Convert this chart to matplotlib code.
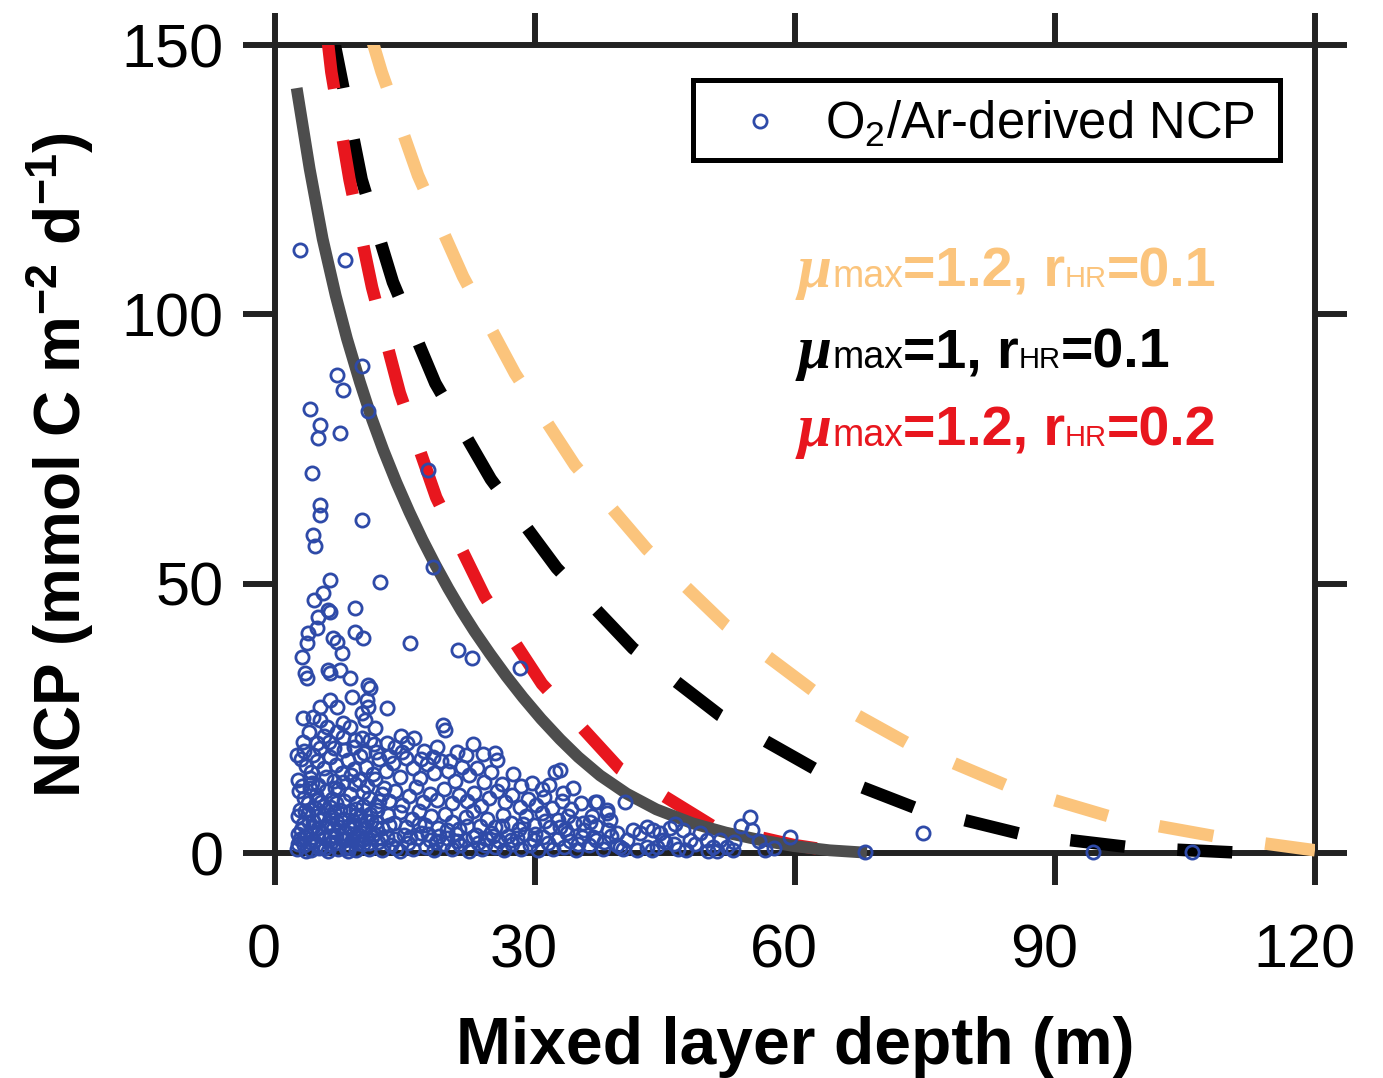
import matplotlib
matplotlib.use('Agg')
import matplotlib.pyplot as plt
from matplotlib.patches import Rectangle
from matplotlib.transforms import ScaledTranslation

# ---- model curves ----
mld_gray = [2.5, 4.0, 5.5, 7.0, 8.3, 9.8, 11.2, 12.5, 14.0, 15.5, 17.0, 18.5, 20.0, 21.5, 23.0,
            24.8, 26.7, 28.6, 30.7, 32.9, 35.0, 37.5, 40.6, 44.0, 48.2, 52.0, 56.0, 59.8, 64.0, 68.3]
ncp_gray = [142.0, 127.0, 114.0, 103.5, 95.5, 87.4, 80.5, 74.8, 68.8, 63.3, 58.2, 53.5, 49.1, 45.0, 41.2,
            37.0, 32.8, 28.9, 24.9, 21.1, 17.8, 14.4, 11.0, 8.1, 5.5, 3.8, 2.4, 1.3, 0.5, 0.05]

mld_red = [6.0, 6.5, 8.6, 11.2, 14.4, 18.6, 24.2, 30.8, 39.8, 50.6, 59.8, 66.0]
ncp_red = [152.0, 145.0, 125.0, 105.0, 85.4, 66.0, 47.6, 31.4, 15.6, 4.9, 1.5, 0.0]

mld_black = [6.6, 6.9, 10.0, 13.6, 18.5, 24.9, 32.5, 41.3, 51.3, 62.3, 74.0, 86.4, 99.0, 110.8]
ncp_black = [152.0, 150.0, 125.0, 106.0, 87.2, 69.4, 52.9, 38.0, 25.6, 15.6, 8.3, 3.4, 1.0, 0.1]

mld_orange = [11.0, 12.3, 16.5, 21.7, 27.7, 34.6, 42.9, 52.0, 62.2, 73.3, 84.9, 97.1, 109.5, 120.0]
ncp_orange = [152.0, 145.0, 125.8, 107.0, 89.0, 72.0, 56.4, 42.3, 30.0, 20.1, 12.2, 6.4, 2.8, 0.5]

# ---- O2/Ar-derived NCP observations (MLD, NCP) ----
obs_upper = [
    (2.9, 112.0), (8.1, 110.0), (10.0, 90.5), (7.2, 88.7), (7.8, 86.0), (10.7, 82.0),
    (4.0, 82.5), (5.2, 79.5), (5.0, 77.0), (7.5, 78.0), (4.3, 70.5), (17.7, 71.1),
    (10.0, 61.8), (5.2, 64.6), (5.2, 62.7), (4.4, 59.0), (4.6, 57.0), (6.3, 50.7),
    (12.1, 50.3), (18.2, 53.1), (5.5, 48.2), (4.5, 47.0), (9.2, 45.5), (6.1, 45.1),
    (6.3, 44.7), (5.0, 43.8), (4.8, 41.8), (3.8, 40.8), (9.2, 41.0), (10.2, 39.9),
    (3.7, 39.0), (3.1, 36.4), (6.7, 39.9), (7.2, 39.2), (7.7, 37.1), (15.6, 39.0),
    (21.1, 37.7), (22.7, 36.2), (28.3, 34.3), (3.5, 33.4), (3.7, 32.5), (6.1, 34.0),
    (6.3, 33.4), (7.5, 34.0), (8.7, 32.5), (10.7, 31.2), (11.0, 30.6), (8.9, 29.0),
    (10.6, 28.4), (10.7, 27.1), (12.9, 26.9), (5.2, 27.1), (6.3, 28.4), (7.2, 27.1),
    (3.2, 25.1), (4.4, 25.2), (5.2, 24.7), (6.0, 23.4), (7.2, 22.5), (7.8, 24.1),
    (10.0, 26.0), (10.4, 24.7), (11.5, 23.2), (19.4, 23.8), (19.6, 22.8), (3.2, 20.6),
    (4.8, 20.4), (5.2, 19.5), (2.5, 18.2), (9.2, 21.0), (10.0, 21.3), (11.0, 21.0),
    (12.9, 20.4), (15.2, 20.4), (18.7, 19.7), (21.0, 18.7), (25.4, 18.6), (25.6, 17.3),
    (32.3, 15.0), (34.4, 12.1), (36.9, 9.5), (38.3, 8.0), (38.7, 6.1), (39.5, 1.5),
    (36.3, 5.8), (35.5, 5.6), (36.7, 3.0), (32.9, 15.4), (37.2, 9.5), (38.3, 7.4),
    (38.4, 4.3), (40.4, 9.5), (32.9, 4.8), (33.7, 3.7), (39.5, 3.7), (39.8, 1.1),
    (40.6, 2.4), (41.3, 4.3), (42.1, 3.7), (42.9, 4.8), (43.6, 4.3), (44.4, 3.7),
    (44.8, 2.4), (44.1, 1.1), (42.9, 1.1), (41.8, 0.6), (47.1, 4.3), (47.9, 2.4),
    (49.0, 3.7), (49.8, 2.4), (50.5, 1.1), (51.3, 2.4), (52.2, 1.1), (54.8, 6.7),
    (55.0, 4.3), (59.4, 3.0), (74.8, 3.7), (94.4, 0.2), (105.8, 0.2), (68.1, 0.2),
]

obs_cluster = [
    # NCP 12-25
    (3.0, 17.5), (3.6, 16.2), (4.2, 15.0), (4.9, 17.0), (5.6, 15.8), (6.3, 17.8), (7.0, 16.4),
    (7.7, 14.8), (8.4, 17.2), (9.1, 15.6), (9.8, 18.0), (10.5, 16.0), (11.3, 14.6), (12.0, 17.4),
    (12.8, 15.2), (13.6, 16.8), (14.4, 14.2), (15.1, 17.6), (15.9, 15.8), (16.7, 14.0), (17.5, 16.6),
    (18.3, 14.8), (19.1, 17.1), (20.0, 15.2), (20.8, 13.4), (21.6, 16.0), (22.4, 14.4), (23.3, 15.8),
    (24.1, 13.2), (24.9, 15.0), (26.2, 12.8), (27.5, 14.6), (28.4, 12.4), (29.6, 13.0), (30.8, 11.8),
    (31.6, 12.6), (33.2, 11.2), (4.3, 13.0), (6.8, 13.4), (9.2, 12.8), (2.7, 13.6), (8.0, 19.2),
    (6.2, 20.6), (11.6, 18.8), (13.8, 19.6), (16.0, 21.4), (17.2, 19.0), (22.8, 20.2), (24.0, 18.4),
    (3.9, 22.4), (8.6, 23.4), (14.5, 21.8), (3.1, 12.4), (4.0, 14.0), (5.0, 12.6), (5.9, 14.2),
    (6.9, 12.0), (7.8, 13.2), (8.8, 14.4), (9.7, 13.6), (10.6, 12.4), (11.5, 13.8), (12.6, 12.0),
    (3.3, 19.0), (4.4, 18.2), (5.6, 21.8), (6.8, 19.4), (7.9, 21.6), (9.1, 19.6), (10.3, 18.6),
    (11.4, 20.2), (13.2, 18.0), (14.6, 18.8), (16.8, 17.4), (18.2, 17.8), (20.2, 17.0), (22.0, 18.2),
    # NCP 8-12
    (2.8, 11.5), (3.4, 10.2), (4.0, 12.0), (4.7, 10.8), (5.3, 9.4), (5.9, 11.6), (6.6, 10.0),
    (7.3, 11.8), (8.0, 9.6), (8.7, 11.0), (9.4, 9.2), (10.1, 11.4), (10.8, 10.2), (11.6, 8.8),
    (12.4, 11.0), (13.1, 9.6), (13.9, 11.6), (14.7, 9.0), (15.5, 10.6), (16.3, 12.2), (17.1, 9.4),
    (17.9, 11.0), (18.7, 9.8), (19.5, 11.8), (20.4, 9.2), (21.2, 10.8), (22.1, 9.6), (23.0, 11.2),
    (23.8, 8.8), (24.7, 10.2), (25.6, 11.6), (26.5, 9.4), (27.4, 10.8), (28.3, 8.6), (29.2, 10.0),
    (30.1, 9.0), (31.0, 10.4), (32.0, 8.4), (33.1, 9.6), (34.2, 8.2), (35.3, 9.2), (7.0, 9.2),
    (5.0, 9.8), (11.8, 8.0), (2.9, 8.0), (3.8, 9.2), (5.7, 8.8), (7.5, 8.0), (10.2, 8.8), (12.0, 9.6),
    # NCP 4-8
    (2.6, 6.8), (3.2, 5.4), (3.8, 7.4), (4.4, 6.0), (5.0, 4.6), (5.6, 7.0), (6.2, 5.6), (6.8, 7.6),
    (7.4, 4.8), (8.0, 6.4), (8.6, 7.8), (9.2, 5.2), (9.8, 6.8), (10.4, 4.4), (11.0, 7.2), (11.7, 5.8),
    (12.4, 4.6), (13.0, 7.0), (13.7, 5.6), (14.4, 7.6), (15.1, 4.8), (15.8, 6.4), (16.6, 7.8),
    (17.3, 5.2), (18.0, 6.8), (18.8, 4.6), (19.6, 7.2), (20.4, 5.8), (21.2, 4.4), (22.0, 6.6),
    (22.8, 7.8), (23.6, 5.0), (24.5, 6.4), (25.4, 4.8), (26.3, 7.0), (27.2, 5.6), (28.1, 4.4),
    (29.0, 6.8), (29.9, 5.2), (30.8, 7.4), (31.7, 4.8), (32.6, 6.2), (33.5, 4.4), (34.5, 5.6),
    (35.6, 4.2), (37.0, 5.0), (45.6, 4.6), (46.2, 5.4), (53.8, 5.0), (3.0, 4.2), (3.5, 7.8),
    (4.6, 8.4), (5.2, 6.2), (6.4, 8.6), (7.6, 6.2), (8.8, 4.4), (9.4, 8.2), (10.6, 6.0), (6.0, 5.0),
    (9.0, 6.0), (4.4, 4.8), (7.2, 5.8), (9.9, 5.2), (11.6, 4.6), (4.8, 6.8), (6.6, 6.6), (8.4, 5.0),
    (9.3, 7.0), (11.1, 6.0), (3.9, 5.8), (6.7, 4.4), (13.2, 5.2), (16.6, 5.4), (19.8, 4.2),
    (22.2, 5.0), (26.2, 5.0), (28.6, 5.4), (31.2, 6.0), (33.8, 6.8), (36.6, 6.8),
    # NCP 0-4
    (2.5, 0.8), (2.9, 2.6), (3.3, 1.4), (3.7, 3.4), (4.1, 0.6), (4.5, 2.2), (4.9, 3.6), (5.3, 1.2),
    (5.7, 2.8), (6.1, 0.4), (6.5, 3.2), (6.9, 1.8), (7.3, 0.8), (7.7, 2.6), (8.1, 3.8), (8.5, 1.2),
    (8.9, 2.4), (9.3, 0.6), (9.7, 3.4), (10.1, 1.6), (10.5, 2.8), (10.9, 0.8), (11.4, 3.6),
    (11.9, 2.0), (12.4, 0.6), (12.9, 3.0), (13.4, 1.4), (13.9, 2.6), (14.4, 0.4), (14.9, 3.4),
    (15.4, 1.8), (15.9, 0.8), (16.4, 2.8), (16.9, 3.8), (17.4, 1.2), (17.9, 2.4), (18.4, 0.6),
    (18.9, 3.2), (19.4, 1.6), (19.9, 2.8), (20.4, 0.8), (20.9, 3.6), (21.4, 1.4), (21.9, 2.4),
    (22.4, 0.4), (22.9, 3.0), (23.4, 1.8), (23.9, 0.8), (24.4, 2.6), (24.9, 3.8), (25.4, 1.2),
    (25.9, 2.2), (26.4, 0.6), (26.9, 3.2), (27.4, 1.6), (27.9, 2.8), (28.4, 0.8), (28.9, 3.6),
    (29.4, 1.4), (29.9, 2.4), (30.4, 0.5), (30.9, 3.0), (31.5, 1.8), (32.1, 0.8), (32.7, 2.6),
    (33.3, 1.2), (34.0, 2.2), (34.7, 0.6), (35.4, 3.0), (36.2, 1.4), (37.0, 2.4), (37.8, 0.8),
    (38.8, 3.2), (43.5, 0.5), (45.0, 2.0), (46.5, 0.8), (48.5, 1.6), (51.0, 0.4), (53.0, 2.0),
    (56.5, 0.5), (50.0, 0.3), (4.0, 2.0), (5.8, 1.0), (7.0, 3.0), (8.2, 1.0), (10.0, 2.4),
    (11.2, 3.0), (3.4, 3.0), (2.7, 1.6), (3.6, 0.4), (5.4, 3.8), (6.3, 1.6), (8.1, 2.4), (9.0, 3.6),
    (10.8, 1.8), (2.6, 3.6), (5.1, 0.9), (8.4, 0.3), (9.6, 1.9), (12.2, 2.8), (14.0, 1.0),
    (15.6, 3.0), (17.6, 3.6), (18.6, 2.0), (21.0, 2.2), (23.2, 3.4), (24.2, 1.4), (25.2, 3.2),
    (27.2, 2.4), (30.0, 3.6), (35.0, 1.6), (38.0, 2.0), (40.2, 0.8), (46.0, 1.6), (47.4, 0.6),
    (52.8, 0.6), (55.8, 2.2), (57.6, 1.0),
]

x_ticks = [0, 30, 60, 90, 120]
y_ticks = [0, 50, 100, 150]

blue = '#2E4AA8'
orange = '#FBC47C'
red = '#E8161E'
gray = '#4D4D4D'

plt.rcParams['font.family'] = ['Liberation Sans', 'DejaVu Sans']
plt.rcParams['mathtext.fontset'] = 'custom'
plt.rcParams['mathtext.rm'] = 'Liberation Sans'
plt.rcParams['mathtext.bf'] = 'Liberation Sans:bold'
plt.rcParams['mathtext.it'] = 'Liberation Sans:italic'

W, H = 1383, 1078
fig = plt.figure(figsize=(W / 100, H / 100), dpi=100)
ax = fig.add_axes([275 / W, 1 - 853 / H, 1040 / W, 808 / H])

# lines clipped at the top, but allowed to spill over the x axis
clip = Rectangle((0, -0.05), 1, 1.05, transform=ax.transAxes, visible=False)
ax.add_patch(clip)

lines = [
    (mld_orange, ncp_orange, orange),
    (mld_black, ncp_black, 'black'),
    (mld_red, ncp_red, red),
]
for xs, ys, c in lines:
    ln, = ax.plot(xs, ys, color=c, lw=9, dashes=(4.4, 4.2), zorder=3)
    ln.set_clip_path(clip)

ln, = ax.plot(mld_gray, ncp_gray, color=gray, lw=8.5, solid_capstyle='butt',
              solid_joinstyle='round', zorder=3)
ln.set_clip_path(clip)

mx = [p[0] for p in obs_upper + obs_cluster]
my = [p[1] for p in obs_upper + obs_cluster]
ax.plot(mx, my, 'o', ms=9.5, mfc='none', mec=blue, mew=2.0, zorder=4,
        clip_on=False, label='O$_2$/Ar-derived NCP')

ax.set_xlim(0, 120)
ax.set_ylim(0, 150)
ax.set_xticks(x_ticks)
ax.set_yticks(y_ticks)
for s in ax.spines.values():
    s.set_linewidth(4.3)
    s.set_color('#222222')
ax.tick_params(direction='out', length=23, width=4.3, color='#222222',
               top=True, right=True, labelsize=44)
ax.tick_params(axis='y', pad=14)
ax.tick_params(axis='x', pad=28)
shift = ScaledTranslation(-11 / 100, 0, fig.dpi_scale_trans)
for lbl in ax.get_xticklabels():
    lbl.set_transform(lbl.get_transform() + shift)

ax.set_xlabel('Mixed layer depth (m)', fontsize=47.5, fontweight='bold', labelpad=25)
ax.set_ylabel('NCP (mmol C m$^{\\mathbf{-2}}$ d$^{\\mathbf{-1}}$)', fontsize=46,
              fontweight='bold')
ax.yaxis.set_label_coords(-0.172, 0.48)

# legend box drawn separately so the padding can be uneven, as in the original
box = Rectangle((0.402, 0.8577), 0.5643, 0.099, transform=ax.transAxes,
                facecolor='white', edgecolor='black', linewidth=3.6, zorder=5)
ax.add_patch(box)
leg = ax.legend(loc='upper right', bbox_to_anchor=(0.9558, 0.9505), borderaxespad=0,
                fontsize=36.5, handlelength=2.25, handletextpad=0.15, borderpad=0.28,
                frameon=False)
leg.set_zorder(6)

# model parameter labels built from pieces so sizes can differ
renderer = fig.canvas.get_renderer()


def rich_label(x_px, y_px, color, parts):
    x = x_px
    for s, size, props in parts:
        t = fig.text(x / W, 1 - y_px / H, s, fontsize=size, color=color,
                     ha='left', va='baseline', **props)
        x += t.get_window_extent(renderer=renderer).width


mu = {'family': 'Liberation Serif', 'weight': 'bold', 'style': 'italic'}
small = {'weight': 'normal'}
bold = {'weight': 'bold'}
labels = [
    (287, orange, '=1.2, r', '=0.1'),
    (368, 'black', '=1, r', '=0.1'),
    (446, red, '=1.2, r', '=0.2'),
]
for y_px, c, a, b in labels:
    rich_label(798, y_px, c, [('\u03bc', 44, mu), ('max', 27, small), (a, 40, bold),
                              ('HR', 21, small), (b, 40, bold)])

fig.savefig('out.png', dpi=100)
